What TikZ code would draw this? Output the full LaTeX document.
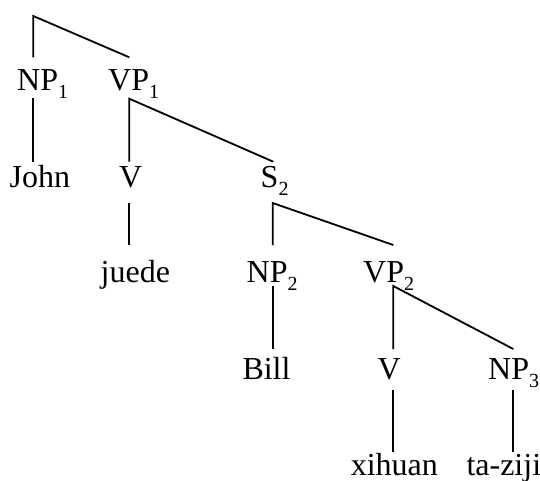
\documentclass[tikz,border=0pt]{standalone}
\usepackage{fontspec}
\setmainfont{Liberation Serif}
% lowered, smaller index for category labels
\newcommand\lowsub[1]{\raisebox{-8pt}{\fontsize{20}{20}\selectfont #1}}
\begin{document}
\begin{tikzpicture}[x=1pt,y=-1pt,
  lab/.style={anchor=base west,inner sep=0pt,font=\fontsize{32}{32}\selectfont},
  branch/.style={line width=1.8pt,line cap=butt,line join=miter}]
\useasboundingbox (0,0) rectangle (540,480);

% labels, row by row
\node[lab] (np1)   at (17,90)   {NP\lowsub{1}};
\node[lab] (vp1)   at (108,90)  {VP\lowsub{1}};
\node[lab] (john)  at (9.5,187) {John};
\node[lab] (v1)    at (119,187) {V};
\node[lab] (s2)    at (260.5,187) {S\lowsub{2}};
\node[lab] (juede) at (100.5,282.7) {juede};
\node[lab] (np2)   at (246.5,282.7) {NP\lowsub{2}};
\node[lab] (vp2)   at (363,282.7) {VP\lowsub{2}};
\node[lab] (bill)  at (242.3,379) {Bill};
\node[lab] (v2)    at (377.3,379) {V};
\node[lab] (np3)   at (488,379) {NP\lowsub{3}};
\node[lab] (xihuan) at (350.6,475) {xihuan};
\node[lab] (taziji) at (466.3,475) {ta-ziji};

% branch points and ends
\coordinate (root)  at (33.3,16);
\coordinate (rootL) at (33.3,57.3);
\coordinate (rootR) at (129.3,57.3);
\coordinate (np1a)  at (33.3,98);
\coordinate (np1b)  at (33.3,161.7);
\coordinate (vp1a)  at (129.3,98.7);
\coordinate (vp1L)  at (129.3,161.7);
\coordinate (vp1R)  at (273.3,161.7);
\coordinate (v1a)   at (129.3,202.7);
\coordinate (v1b)   at (129.3,245);
\coordinate (s2a)   at (272.7,203);
\coordinate (s2L)   at (272.7,245);
\coordinate (s2R)   at (393.3,245);
\coordinate (np2a)  at (272.7,286);
\coordinate (np2b)  at (272.7,349);
\coordinate (vp2a)  at (393.3,286);
\coordinate (vp2L)  at (393.3,349);
\coordinate (vp2R)  at (513.3,349);
\coordinate (v2a)   at (392.7,390);
\coordinate (v2b)   at (392.7,451.7);
\coordinate (np3a)  at (513.3,390);
\coordinate (np3b)  at (513.3,451.7);

% branches
\draw[branch] (rootL) -- (root) -- (rootR);
\draw[branch] (np1a) -- (np1b);
\draw[branch] (vp1L) -- (vp1a) -- (vp1R);
\draw[branch] (v1a) -- (v1b);
\draw[branch] (s2L) -- (s2a) -- (s2R);
\draw[branch] (np2a) -- (np2b);
\draw[branch] (vp2L) -- (vp2a) -- (vp2R);
\draw[branch] (v2a) -- (v2b);
\draw[branch] (np3a) -- (np3b);
\end{tikzpicture}
\end{document}
